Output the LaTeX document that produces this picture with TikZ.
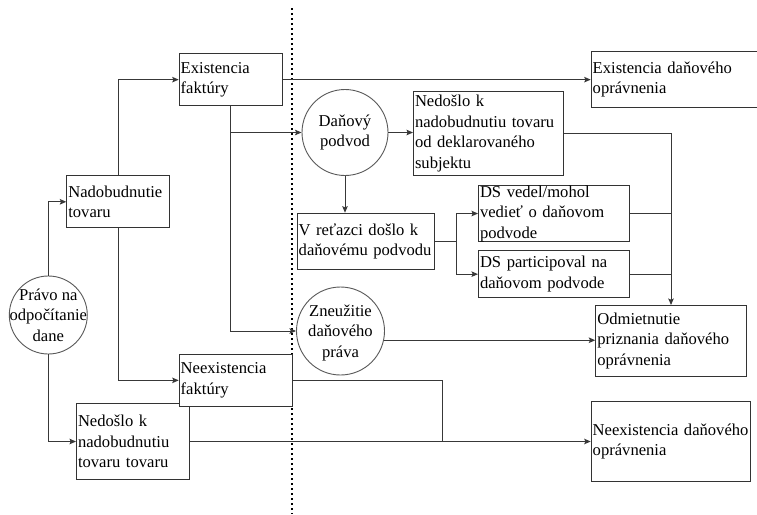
\documentclass[tikz,border=0pt]{standalone}
\usepackage{fontspec}
\setmainfont{Liberation Serif}
\usetikzlibrary{arrows.meta}
\begin{document}
\begin{tikzpicture}[x=1pt,y=-1pt,
  txt/.style={font=\rmfamily\fontsize{16.6}{20.5}\selectfont},
  box/.style={txt, draw=black!80, line width=1pt, fill=white, anchor=north west,
    inner xsep=1.5pt, inner ysep=0pt, align=left},
  circ/.style={circle, draw=black!65, line width=0.9pt, fill=white, inner sep=0pt},
  ctext/.style={txt, align=center, inner sep=0pt},
  link/.style={draw=black!78, line width=1pt},
  arr/.style={link, -{Stealth[length=6.5pt,width=5.5pt,inset=1.2pt]}},
  divider/.style={line width=2pt, dash pattern=on 2pt off 3pt}
]
\clip (0,0) rectangle (757,514);
\fill[white] (0,0) rectangle (757,514);

% dotted separator
\coordinate (divtop) at (291.5,8);
\coordinate (divbot) at (291.5,514);
\draw[divider] (divtop) -- (divbot);

% circles
\node[circ, minimum size=78pt] (pravo) at (48.3,315) {};
\node[ctext] (pravoT) at (pravo) {Právo na\\odpočítanie\\dane};
\node[circ, minimum size=86pt] (podvod) at (345,132.5) {};
\node[ctext] (podvodT) at (podvod) {Daňový\\podvod};
\node[circ, minimum size=88pt] (zneu) at (340.5,331) {};
\node[ctext] (zneuT) at ([yshift=-1.5pt]zneu.center) {Zneužitie\\daňového\\práva};

% boxes
\node[box, minimum width=103.3pt, text width=100.3pt, minimum height=51.7pt] (exist) at (178.7,53.3) {Existencia\\faktúry};
\node[box, minimum width=103pt, text width=100pt, minimum height=52pt] (nadob) at (66.3,175.3) {Nadobudnutie\\tovaru};
\node[box, minimum width=170pt, text width=167pt, minimum height=56.6pt] (edo) at (590.7,50.7) {Existencia daňového\\oprávnenia};
\node[box, minimum width=150pt, text width=147pt, minimum height=84.3pt] (ned1) at (413,90.7) {Nedošlo k\\nadobudnutiu tovaru\\od deklarovaného\\subjektu};
\node[box, minimum width=137pt, text width=134pt, minimum height=56.5pt] (vret) at (296.7,212.7) {V reťazci došlo k\\daňovému podvodu};
\node[box, minimum width=150.7pt, text width=147.7pt, minimum height=56pt] (dsv) at (478,185) {DS vedel/mohol\\vedieť o daňovom\\podvode};
\node[box, minimum width=150.7pt, text width=147.7pt, minimum height=47.3pt] (dsp) at (478,250) {DS participoval na\\daňovom podvode};
\node[box, minimum width=150.4pt, text width=147.4pt, minimum height=70.7pt] (odm) at (595.3,305) {Odmietnutie\\priznania daňového\\oprávnenia};
\node[box, minimum width=112.7pt, text width=109.7pt, minimum height=76.6pt] (ned2) at (76,402.7) {Nedošlo k\\nadobudnutiu\\tovaru tovaru};
\node[box, minimum width=113.3pt, text width=110.3pt, minimum height=51.7pt] (neex) at (178.7,354) {Neexistencia\\faktúry};
\node[box, minimum width=159.6pt, text width=156.6pt, minimum height=80pt] (nedo) at (590.7,401) {Neexistencia daňového\\oprávnenia};

% connectors
\draw[arr] (pravo.north) |- (nadob.west);
\draw[arr] (pravo.south) |- (ned2.west);
\draw[arr] (nadob.north) |- (exist.west);
\draw[arr] (nadob.south) |- (neex.west);
\draw[arr] (exist.east) -- (exist.east -| edo.west);
\draw[arr] (exist.south) |- (podvod.west);
\draw[arr] (exist.south) |- (zneu.west);
\draw[arr] (podvod.east) -- (podvod.east -| ned1.west);
\draw[arr] (podvod.south) -- (podvod.south |- vret.north);

\coordinate (fork) at ([xshift=22pt]vret.east);
\draw[link] (vret.east) -- (fork);
\draw[arr] (fork) |- (dsv.west);
\draw[arr] (fork) |- (dsp.west);

\coordinate (merge) at (odm.north |- ned1.east);
\draw[arr] (ned1.east) -- (merge) -- (odm.north);
\draw[link] (dsv.east) -- (dsv.east -| merge);
\draw[link] (dsp.east) -- (dsp.east -| merge);

\draw[arr] (zneu.-12) -- (zneu.-12 -| odm.west);

\coordinate (drop) at ([xshift=149pt]neex.east);
\draw[link] (neex.east) -- (drop) -- (drop |- ned2.east);
\draw[arr] (ned2.east) -- (ned2.east -| nedo.west);
\end{tikzpicture}
\end{document}
